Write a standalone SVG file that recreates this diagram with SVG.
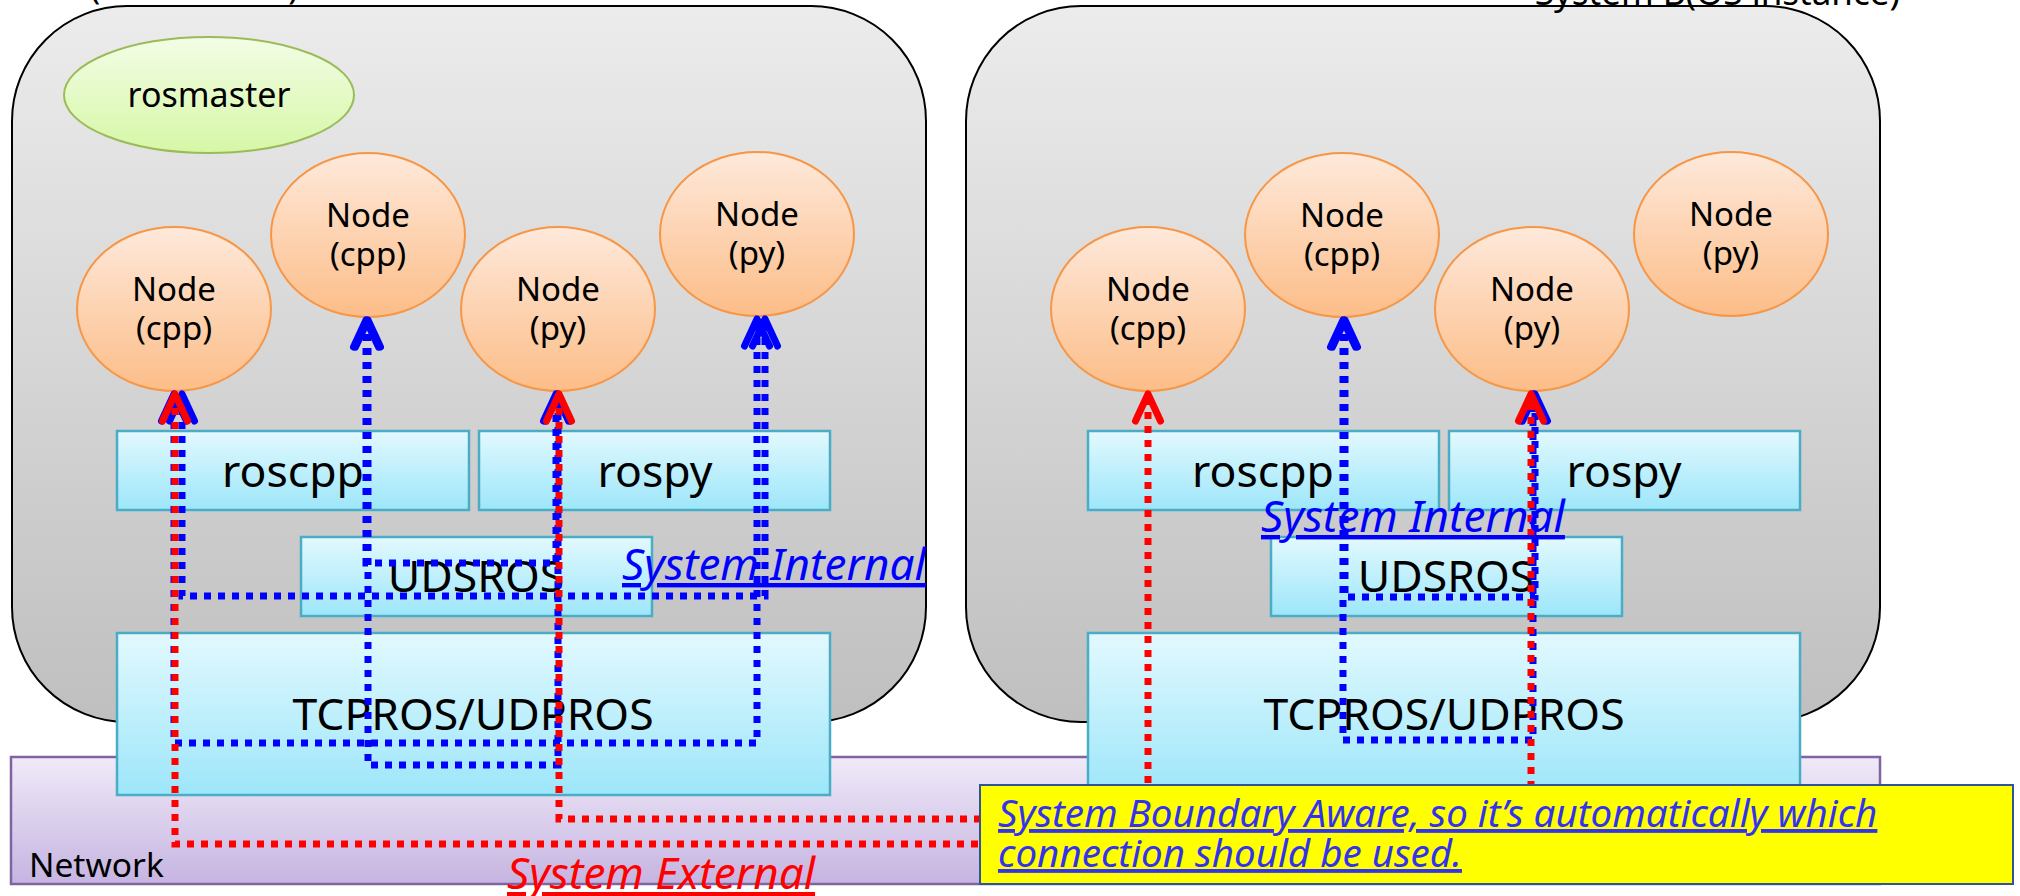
<svg xmlns="http://www.w3.org/2000/svg" width="2020" height="896" viewBox="0 0 2020 896">
  <style>
    text { font-family: "Noto Sans", "Open Sans", "DejaVu Sans", sans-serif; fill: #000; }
    .sys { fill: url(#gSys); stroke: #000; stroke-width: 2; }
    .node { fill: url(#gNode); stroke: #f79646; stroke-width: 2; }
    .master { fill: url(#gMaster); stroke: #9bbb59; stroke-width: 2; }
    .layer { fill: url(#gLayer); stroke: #4bacc6; stroke-width: 2.5; }
    .net { fill: url(#gNet); stroke: #8064a2; stroke-width: 2.5; }
    .lbl { font-size: 33px; text-anchor: middle; }
    .lay { font-size: 44.5px; text-anchor: middle; }
    .blue { fill: none; stroke: #0000ff; stroke-width: 7; stroke-dasharray: 7 7; marker-start: url(#arrB); marker-end: url(#arrB); }
    .red { fill: none; stroke: #ff0000; stroke-width: 7; stroke-dasharray: 7 7; marker-start: url(#arrR); marker-end: url(#arrR); }
    .note { font-size: 44px; font-style: italic; text-decoration: underline; }
    .callout-text { font-size: 38.5px; font-style: italic; text-decoration: underline; fill: #3333ee; }
  </style>
  <defs>
    <linearGradient id="gSys" x1="0" y1="0" x2="0" y2="1">
      <stop offset="0" stop-color="#ececec"/>
      <stop offset="1" stop-color="#bfbfbf"/>
    </linearGradient>
    <linearGradient id="gNode" x1="0" y1="0" x2="0" y2="1">
      <stop offset="0" stop-color="#fee9db"/>
      <stop offset="1" stop-color="#fcbd88"/>
    </linearGradient>
    <linearGradient id="gMaster" x1="0" y1="0" x2="0" y2="1">
      <stop offset="0" stop-color="#f3fde6"/>
      <stop offset="1" stop-color="#d6f7a6"/>
    </linearGradient>
    <linearGradient id="gLayer" x1="0" y1="0" x2="0" y2="1">
      <stop offset="0" stop-color="#e2f9fe"/>
      <stop offset="1" stop-color="#9de6fa"/>
    </linearGradient>
    <linearGradient id="gNet" x1="0" y1="0" x2="0" y2="1">
      <stop offset="0" stop-color="#f0eaf8"/>
      <stop offset="1" stop-color="#c5b4e1"/>
    </linearGradient>
    <marker id="arrB" markerUnits="userSpaceOnUse" markerWidth="60" markerHeight="60" viewBox="-40 -30 60 60" refX="0" refY="0" orient="auto-start-reverse" overflow="visible">
      <path d="M -27 -12.5 L 0 0 L -27 12.5" fill="none" stroke="#0000ff" stroke-width="7" stroke-linecap="round" stroke-linejoin="round" stroke-dasharray="none"/>
    </marker>
    <marker id="arrR" markerUnits="userSpaceOnUse" markerWidth="60" markerHeight="60" viewBox="-40 -30 60 60" refX="0" refY="0" orient="auto-start-reverse" overflow="visible">
      <path d="M -27 -12.5 L 0 0 L -27 12.5" fill="none" stroke="#ff0000" stroke-width="7" stroke-linecap="round" stroke-linejoin="round" stroke-dasharray="none"/>
    </marker>
  </defs>

  <!-- System A -->
  <g id="systemA">
    <rect class="sys" x="12" y="6" width="914" height="716" rx="115" ry="115"/>
  </g>
  <!-- System B -->
  <g id="systemB">
    <rect class="sys" x="966" y="6" width="914" height="716" rx="115" ry="115"/>
  </g>

  <!-- system titles (run off the top edge) -->
  <text x="90" y="-1" font-size="34">(OS instance)</text>
  <text x="1900" y="5" font-size="35" text-anchor="end">System B(OS instance)</text>

  <g id="rosmaster">
    <ellipse class="master" cx="209" cy="95" rx="145" ry="58"/>
    <text x="209" y="107" font-size="34" text-anchor="middle">rosmaster</text>
  </g>

  <!-- nodes of System A -->
  <g id="a-node-cpp-1">
    <ellipse class="node" cx="174" cy="309" rx="97" ry="82"/>
    <text class="lbl" x="174" y="301">Node</text>
    <text class="lbl" x="174" y="340">(cpp)</text>
  </g>
  <g id="a-node-cpp-2">
    <ellipse class="node" cx="368" cy="235" rx="97" ry="82"/>
    <text class="lbl" x="368" y="227">Node</text>
    <text class="lbl" x="368" y="266">(cpp)</text>
  </g>
  <g id="a-node-py-1">
    <ellipse class="node" cx="558" cy="309" rx="97" ry="82"/>
    <text class="lbl" x="558" y="301">Node</text>
    <text class="lbl" x="558" y="340">(py)</text>
  </g>
  <g id="a-node-py-2">
    <ellipse class="node" cx="757" cy="234" rx="97" ry="82"/>
    <text class="lbl" x="757" y="226">Node</text>
    <text class="lbl" x="757" y="265">(py)</text>
  </g>

  <!-- nodes of System B -->
  <g id="b-node-cpp-1">
    <ellipse class="node" cx="1148" cy="309" rx="97" ry="82"/>
    <text class="lbl" x="1148" y="301">Node</text>
    <text class="lbl" x="1148" y="340">(cpp)</text>
  </g>
  <g id="b-node-cpp-2">
    <ellipse class="node" cx="1342" cy="235" rx="97" ry="82"/>
    <text class="lbl" x="1342" y="227">Node</text>
    <text class="lbl" x="1342" y="266">(cpp)</text>
  </g>
  <g id="b-node-py-1">
    <ellipse class="node" cx="1532" cy="309" rx="97" ry="82"/>
    <text class="lbl" x="1532" y="301">Node</text>
    <text class="lbl" x="1532" y="340">(py)</text>
  </g>
  <g id="b-node-py-2">
    <ellipse class="node" cx="1731" cy="234" rx="97" ry="82"/>
    <text class="lbl" x="1731" y="226">Node</text>
    <text class="lbl" x="1731" y="265">(py)</text>
  </g>

  <!-- network band -->
  <g id="network">
    <rect class="net" x="11" y="757" width="1869" height="127"/>
    <text x="29" y="877" font-size="33.5">Network</text>
  </g>

  <!-- client libraries and transports, System A -->
  <g id="a-roscpp">
    <rect class="layer" x="117" y="431" width="352" height="79"/>
    <text class="lay" x="293" y="487">roscpp</text>
  </g>
  <g id="a-rospy">
    <rect class="layer" x="479" y="431" width="351" height="79"/>
    <text class="lay" x="655" y="487">rospy</text>
  </g>
  <g id="a-udsros">
    <rect class="layer" x="301" y="537" width="351" height="79"/>
    <text class="lay" x="476" y="592">UDSROS</text>
  </g>
  <g id="a-tcpros">
    <rect class="layer" x="117" y="633" width="713" height="162"/>
    <text class="lay" x="473" y="730" font-size="45.5">TCPROS/UDPROS</text>
  </g>

  <!-- client libraries and transports, System B -->
  <g id="b-roscpp">
    <rect class="layer" x="1088" y="431" width="351" height="79"/>
    <text class="lay" x="1263" y="487">roscpp</text>
  </g>
  <g id="b-rospy">
    <rect class="layer" x="1449" y="431" width="351" height="79"/>
    <text class="lay" x="1624" y="487">rospy</text>
  </g>
  <g id="b-udsros">
    <rect class="layer" x="1271" y="537" width="351" height="79"/>
    <text class="lay" x="1446" y="592">UDSROS</text>
  </g>
  <g id="b-tcpros">
    <rect class="layer" x="1088" y="633" width="712" height="162"/>
    <text class="lay" x="1444" y="730" font-size="45.5">TCPROS/UDPROS</text>
  </g>

  <!-- connections -->
  <g id="connectors">
    <!-- inside System A -->
    <path class="blue" d="M 182 394 V 596 H 765 V 319"/>
    <path class="blue" d="M 174 394 V 743 H 757 V 319"/>
    <path class="blue" d="M 366 320 V 563 H 556 V 394"/>
    <path class="blue" d="M 368 320 V 765 H 558 V 394"/>
    <!-- inside System B -->
    <path class="blue" d="M 1345 320 V 597 H 1535 V 394"/>
    <path class="blue" d="M 1343 320 V 740 H 1533 V 394"/>
    <!-- across the network -->
    <path class="red" d="M 175 394 V 844 H 1148 V 394"/>
    <path class="red" d="M 559 394 V 819 H 1531 V 394"/>
  </g>

  <text class="note" x="622" y="580" style="fill:#0000ff">System Internal</text>
  <text class="note" x="1261" y="532" style="fill:#0000ff">System Internal</text>

  <g id="callout">
    <rect x="980" y="785" width="1033" height="99" fill="#ffff00" stroke="#2f5597" stroke-width="2"/>
    <text class="callout-text" x="998" y="827">System Boundary Aware, so it’s automatically which</text>
    <text class="callout-text" x="998" y="867">connection should be used.</text>
  </g>

  <text class="note" x="507" y="889" style="fill:#ff0000">System External</text>
</svg>
